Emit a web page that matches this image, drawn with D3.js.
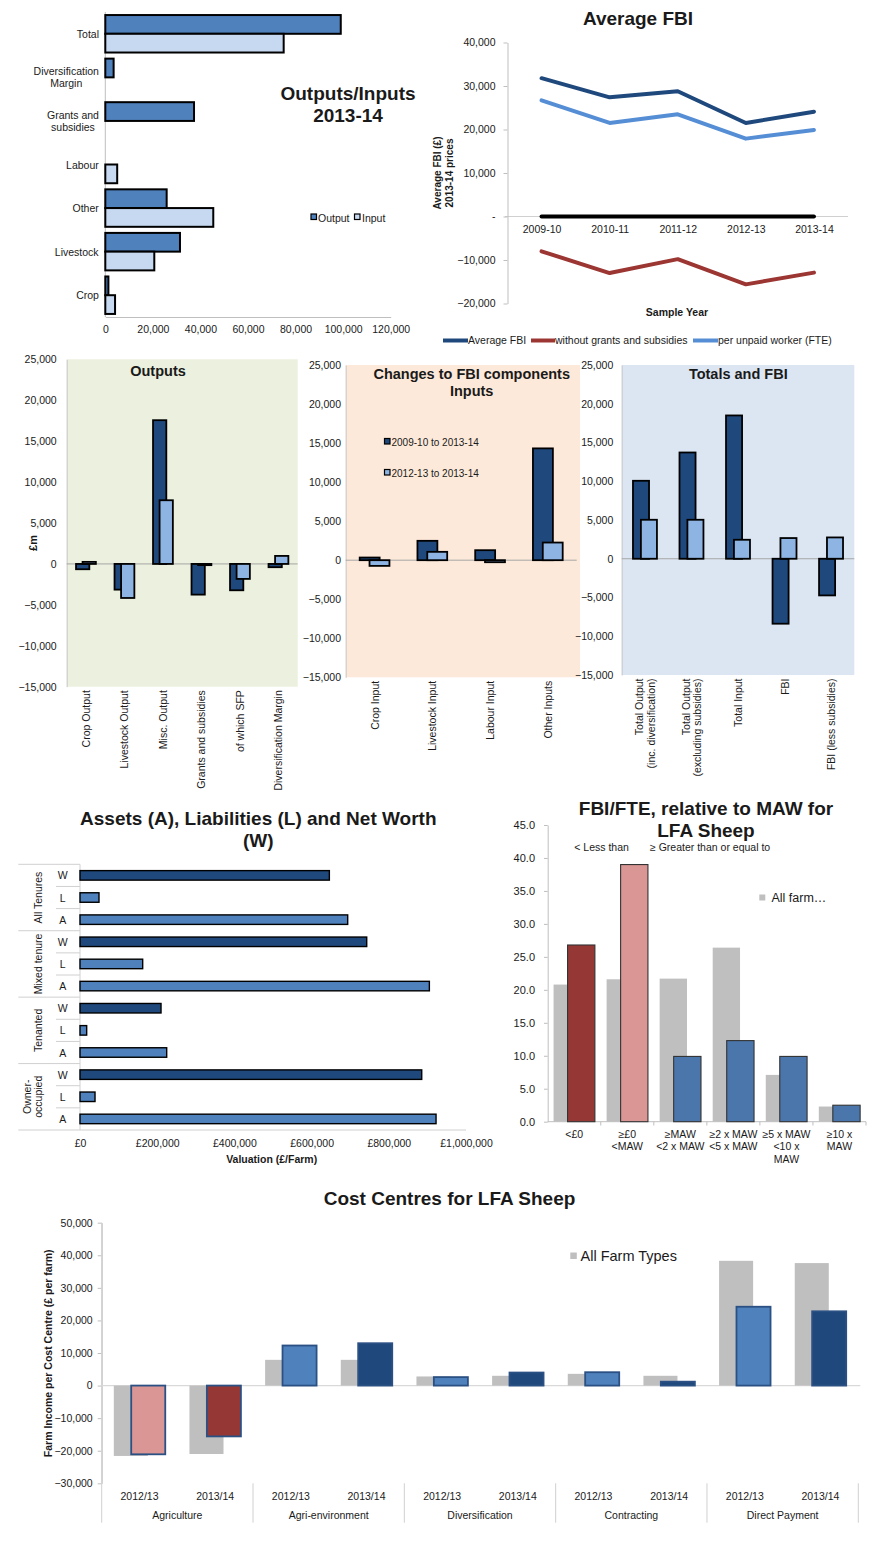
<!DOCTYPE html>
<html><head><meta charset="utf-8">
<script src="https://cdn.jsdelivr.net/npm/d3@7"></script>
<style>body{margin:0;background:#fff}svg{display:block}</style>
</head><body>
<script>
// ================= DATA =================
// Outputs/Inputs 2013-14
const oiCategories = ["Total","Diversification\nMargin","Grants and\nsubsidies","Labour","Other","Livestock","Crop"];
const oiOutput = [99000, 3500, 37300, null, 25800, 31400, 1300];
const oiInput  = [75000, null, null, 5000, 45400, 20600, 4100];
const oiTicks = [0,20000,40000,60000,80000,100000,120000];
const oiSeries = ["Output","Input"];

// Average FBI
const fbiYears = ["2009-10","2010-11","2011-12","2012-13","2013-14"];
const fbiAverage = [31800,27400,28800,21500,24100];
const fbiNoGrants = [-8000,-13000,-9800,-15600,-12900];
const fbiPerWorker = [26700,21500,23500,17900,19900];
const fbiBaseline = [0,0,0,0,0];
const fbiTicks = [-20000,-10000,0,10000,20000,30000,40000];
const fbiSeries = ["Average FBI","without grants and subsidies","per unpaid worker (FTE)"];

// Changes to FBI components
const chgTicks = [-15000,-10000,-5000,0,5000,10000,15000,20000,25000];
const chgSeries = ["2009-10 to 2013-14","2012-13 to 2013-14"];
const outCats = ["Crop Output","Livestock Output","Misc. Output","Grants and subsidies","of which SFP","Diversification Margin"];
const outLong = [-650,-3140,17560,-3750,-3220,-400];
const outShort = [250,-4160,7780,-150,-1830,980];
const inCats = ["Crop Input","Livestock Input","Labour Input","Other Inputs"];
const inLong = [340,2480,1280,14320];
const inShort = [-730,1070,-260,2260];
const totCats = ["Total Output\n(inc. diversification)","Total Output\n(excluding subsidies)","Total Input","FBI","FBI (less subsidies)"];
const totLong = [10060,13710,18490,-8380,-4730];
const totShort = [5030,5030,2450,2670,2750];

// Assets, Liabilities, Net Worth
const alwGroups = ["All Tenures","Mixed tenure","Tenanted","Owner-\noccupied"];
const alwRows = ["W","L","A"];
const alwAllTenures = [646000,49200,693500];
const alwMixed = [742800,162400,905100];
const alwTenanted = [209900,17300,224600];
const alwOwner = [885300,38900,922400];
const alwTicks = [0,200000,400000,600000,800000,1000000];

// FBI/FTE relative to MAW
const mawCats = ["<£0","≥£0\n<MAW","≥MAW\n<2 x MAW","≥2 x MAW\n<5 x MAW","≥5 x MAW\n<10 x\nMAW","≥10 x\nMAW"];
const mawAllFarms = [20.8,21.6,21.7,26.4,7.1,2.3];
const mawLfaSheep = [26.8,39.0,9.9,12.3,9.9,2.5];
const mawTicks = [0,5,10,15,20,25,30,35,40,45];

// Cost centres
const ccGroups = ["Agriculture","Agri-environment","Diversification","Contracting","Direct Payment"];
const ccYears = ["2012/13","2013/14"];
const ccAllFarms = [-21600,-21000,7900,7900,2800,3000,3600,3000,38300,37600];
const ccLfaSheep = [-21100,-15600,12300,13000,2600,4000,4100,1200,24200,22800];
const ccTicks = [-30000,-20000,-10000,0,10000,20000,30000,40000,50000];

// ================= STYLE =================
const F = "'Liberation Sans', Arial, Helvetica, sans-serif";
const TXT = "#1a1a1a";
const AX = "#bfbfbf";
const DARK = "#1F497D", MID = "#4F81BD", LIGHT = "#8DB4E2", PALE = "#C6D9F1";
const RED = "#953735", PINK = "#D99694", GREY = "#BFBFBF";

const svg = d3.select("body").append("svg").attr("width",877).attr("height",1548).attr("font-family",F);

function label(g, x, y, s, size, opts={}) {
  const t = g.append("text").attr("x",x).attr("y",y).attr("font-size",size)
    .attr("fill", opts.fill||TXT).attr("text-anchor", opts.anchor||"middle")
    .attr("dominant-baseline","central");
  if (opts.bold) t.attr("font-weight","bold");
  const lines = String(s).split("\n");
  const lh = opts.lh || size*1.15;
  const y0 = opts.top ? y : y - (lines.length-1)*lh/2;
  lines.forEach((l,i)=> t.append("tspan").attr("x",x).attr("y",y0+i*lh).text(l));
  return t;
}
function styleAxis(g, size) {
  g.attr("font-family",F).attr("font-size",size);
  g.selectAll("text").attr("fill",TXT);
  g.selectAll(".tick line").attr("stroke",AX);
  g.select(".domain").attr("stroke",AX);
}
function hline(g,x1,x2,y,c,w){g.append("line").attr("x1",x1).attr("x2",x2).attr("y1",y).attr("y2",y).attr("stroke",c||AX).attr("stroke-width",w||1);}
function vline(g,x,y1,y2,c,w){g.append("line").attr("x1",x).attr("x2",x).attr("y1",y1).attr("y2",y2).attr("stroke",c||AX).attr("stroke-width",w||1);}

// ================= PANEL 1: Outputs/Inputs =================
{
  const g = svg.append("g");
  const x = d3.scaleLinear().domain([0,120000]).range([105.3,390.7]);
  const y = d3.scaleBand().domain(oiCategories).range([12,317]);
  const bh = y.bandwidth()*0.43;
  const ax = g.append("g").attr("transform","translate(0,317)")
    .call(d3.axisBottom(x).tickValues(oiTicks).tickSize(0).tickPadding(9).tickFormat(d3.format(",")));
  styleAxis(ax,10.5);
  vline(g, x(0), 12, 317);
  oiCategories.forEach(c => {
    const t = label(g, 0, y(c)+y.bandwidth()/2, c, 10.5, {lh:12});
    const w = t.node().getBBox().width;
    t.attr("x",99-w/2); t.selectAll("tspan").attr("x",99-w/2);
  });
  const outD = oiCategories.map((c,i)=>({c,v:oiOutput[i]})).filter(d=>d.v!=null);
  const inD = oiCategories.map((c,i)=>({c,v:oiInput[i]})).filter(d=>d.v!=null);
  g.selectAll(".o").data(outD).join("rect")
    .attr("x",x(0)).attr("y",d=>y(d.c)+y.bandwidth()/2-bh).attr("width",d=>x(d.v)-x(0)).attr("height",bh)
    .attr("fill",MID).attr("stroke","#000").attr("stroke-width",2);
  g.selectAll(".i").data(inD).join("rect")
    .attr("x",x(0)).attr("y",d=>y(d.c)+y.bandwidth()/2).attr("width",d=>x(d.v)-x(0)).attr("height",bh)
    .attr("fill",PALE).attr("stroke","#000").attr("stroke-width",2);
  label(g,348,93,"Outputs/Inputs",19,{bold:true});
  label(g,348,115,"2013-14",19,{bold:true});
  // legend
  const lg = [[311,318,MID],[354.5,362,PALE]];
  oiSeries.forEach((s,i)=>{
    g.append("rect").attr("x",lg[i][0]).attr("y",214).attr("width",5.5).attr("height",5.5).attr("fill",lg[i][2]).attr("stroke","#000").attr("stroke-width",1.2);
    label(g,lg[i][1],217.5,s,10.5,{anchor:"start"});
  });
}

// ================= PANEL 2: Average FBI =================
{
  const g = svg.append("g");
  const y = d3.scaleLinear().domain([-20000,40000]).range([303.5,42.5]);
  const x = d3.scalePoint().domain(fbiYears).range([507.5,848]).padding(0.5);
  hline(g,505,848,y(0),"#d0d0d0");
  const ay = g.append("g").attr("transform","translate(507.5,0)")
    .call(d3.axisLeft(y).tickValues(fbiTicks).tickSize(4).tickSizeOuter(0).tickPadding(8)
      .tickFormat(d=> d===0 ? "-" : d3.format(",")(d)));
  styleAxis(ay,10.5);
  const ax = g.append("g").attr("transform",`translate(0,${y(0)})`)
    .call(d3.axisBottom(x).tickSize(0).tickPadding(9.5));
  styleAxis(ax,10.5); ax.select(".domain").remove();
  const line = d3.line().x((d,i)=>x(fbiYears[i])).y(d=>y(d));
  const series = [[fbiBaseline,"#000"],[fbiAverage,DARK],[fbiNoGrants,"#9B3632"],[fbiPerWorker,"#558ED5"]];
  series.forEach(([vals,c])=> g.append("path").attr("d",line(vals)).attr("fill","none").attr("stroke",c)
     .attr("stroke-width",4).attr("stroke-linejoin","round").attr("stroke-linecap","round"));
  label(g,638,18,"Average FBI",19,{bold:true});
  g.append("g").attr("transform","translate(443,173) rotate(-90)")
    .call(s=>label(s,0,0,"Average FBI (£)\n2013-14 prices",10,{bold:true,lh:12}));
  label(g,677,312,"Sample Year",10.5,{bold:true});
  const lg = [[443,468,DARK],[531,555,"#9B3632"],[693,718,"#558ED5"]];
  fbiSeries.forEach((s,i)=>{
    hline(g,lg[i][0],lg[i][1],340.5,lg[i][2],4);
    label(g,lg[i][1],340,s,10.5,{anchor:"start"});
  });
}

// ================= PANEL 3: Changes to FBI components =================
function changesPanel(cfg){
  const g = svg.append("g");
  const y = d3.scaleLinear().domain([-15000,25000]).range([cfg.yb,cfg.yt]);
  const x = d3.scaleBand().domain(cfg.cats).range([cfg.x0,cfg.x1]);
  g.append("rect").attr("x",cfg.x0).attr("y",cfg.yt).attr("width",(cfg.bgx1||cfg.x1)-cfg.x0)
    .attr("height",cfg.yb-cfg.yt).attr("fill",cfg.bg);
  const ay = g.append("g").attr("transform",`translate(${cfg.x0},0)`)
    .call(d3.axisLeft(y).tickValues(chgTicks).tickSize(0).tickSizeOuter(0).tickPadding(cfg.x0-cfg.lx).tickFormat(d3.format(",")));
  styleAxis(ay,10.5);
  ay.select(".domain").attr("stroke","#c8c8c8");
  hline(g,cfg.x0,cfg.x1,y(0),"#a6a6a6");
  const bwid = x.bandwidth()*0.345, off = x.bandwidth()*0.085;
  const mk = (vals, sign, fill) => g.selectAll(null).data(cfg.cats.map((c,i)=>({c,v:vals[i]}))).join("rect")
    .attr("x",d=>x(d.c)+x.bandwidth()/2+sign*off-bwid/2)
    .attr("y",d=>y(Math.max(d.v,0))).attr("width",bwid)
    .attr("height",d=>Math.abs(y(d.v)-y(0)))
    .attr("fill",fill).attr("stroke","#000").attr("stroke-width",1.8);
  mk(cfg.long,-1,DARK);
  mk(cfg.short,1,LIGHT);
  cfg.cats.forEach(c=>{
    const gg = g.append("g").attr("transform",`translate(${x(c)+x.bandwidth()/2},${cfg.yb+3.5}) rotate(-90)`);
    const lines = c.split("\n");
    const t = gg.append("text").attr("font-size",10.5).attr("fill",TXT).attr("text-anchor","end").attr("dominant-baseline","central");
    lines.forEach((l,i)=> t.append("tspan").attr("x",0).attr("y",(i-(lines.length-1)/2)*11.7).text(l));
  });
  cfg.titles.forEach((s,i)=> label(g,cfg.tx,cfg.ty+i*16.7,s,14.5,{bold:true}));
  return g;
}
changesPanel({x0:66.7,x1:297.7,yt:359.3,yb:686.7,lx:56.7,bg:"#EBF1DE",cats:outCats,long:outLong,short:outShort,titles:["Outputs"],tx:158,ty:370.7});
const pIn = changesPanel({x0:345.7,x1:576.7,bgx1:580,yt:365,yb:677.3,lx:341,bg:"#FDE9D9",cats:inCats,long:inLong,short:inShort,titles:["Changes to FBI components","Inputs"],tx:471.7,ty:374});
changesPanel({x0:621.7,x1:854.3,yt:365,yb:675,lx:613.3,bg:"#DCE6F2",cats:totCats,long:totLong,short:totShort,titles:["Totals and FBI"],tx:738.3,ty:374});
{
  const g = svg.append("g");
  g.append("g").attr("transform","translate(33,543) rotate(-90)").call(s=>label(s,0,0,"£m",11,{bold:true}));
  [DARK,LIGHT].forEach((c,i)=>{
    pIn.append("rect").attr("x",384.5).attr("y",438.5+i*31).attr("width",5.5).attr("height",5.5).attr("fill",c).attr("stroke","#000").attr("stroke-width",1.2);
    label(pIn,391.5,441.7+i*31,chgSeries[i],10,{anchor:"start"});
  });
}

// ================= PANEL 4: Assets, Liabilities, Net Worth =================
{
  const g = svg.append("g");
  const groupVals = [alwAllTenures,alwMixed,alwTenanted,alwOwner];
  const rows = [];
  alwGroups.forEach((gr,gi)=> alwRows.forEach((r,ri)=> rows.push({key:gi+"|"+r,g:gi,r,v:groupVals[gi][ri]})));
  const x = d3.scaleLinear().domain([0,1000000]).range([80,466]);
  const y = d3.scaleBand().domain(rows.map(d=>d.key)).range([864.3,1130]);
  const bh = 9.5;
  // separators
  alwGroups.forEach((gr,gi)=>{
    const top = y(gi+"|W");
    hline(g,18.3,80,top,"#d0d0d0");
    hline(g,56,80,top+y.bandwidth(),"#d0d0d0");
    hline(g,56,80,top+2*y.bandwidth(),"#d0d0d0");
    const lines = gr.split("\n");
    const cy = top+1.5*y.bandwidth();
    lines.forEach((l,i)=>{
      g.append("g").attr("transform",`translate(${38.3-(lines.length-1-i)*11.6},${cy}) rotate(-90)`)
        .call(s=>label(s,0,0,l,10.5));
    });
  });
  hline(g,18.3,466,1130,"#d0d0d0");
  vline(g,80,864.3,1130,"#d0d0d0");
  const ax = g.append("g").attr("transform","translate(0,1130)")
    .call(d3.axisBottom(x).tickValues(alwTicks).tickSize(0).tickPadding(9.8).tickFormat(d=>"£"+d3.format(",")(d)));
  styleAxis(ax,10.5); ax.select(".domain").remove();
  rows.forEach(d=> label(g,62.7,y(d.key)+y.bandwidth()/2,d.r,10.5));
  g.selectAll(".b").data(rows).join("rect")
    .attr("x",x(0)).attr("y",d=>y(d.key)+y.bandwidth()/2-bh/2).attr("width",d=>x(d.v)-x(0)).attr("height",bh)
    .attr("fill",d=>d.r==="W"?DARK:MID).attr("stroke","#000").attr("stroke-width",1.4);
  label(g,258.3,818.3,"Assets (A), Liabilities (L) and Net Worth",19,{bold:true});
  label(g,258.3,840,"(W)",19,{bold:true});
  label(g,271.7,1159.3,"Valuation (£/Farm)",10.5,{bold:true});
}

// ================= PANEL 5: FBI/FTE relative to MAW =================
{
  const g = svg.append("g");
  const y = d3.scaleLinear().domain([0,45]).range([1121.7,825]);
  const x = d3.scaleBand().domain(mawCats).range([547.7,866]);
  const bw = x.bandwidth()*0.515, off = x.bandwidth()*0.132;
  const cols = [RED,PINK,"#4A76AC","#4A76AC","#4A76AC","#4A76AC"];
  const ay = g.append("g").attr("transform","translate(547.7,0)")
    .call(d3.axisLeft(y).tickValues(mawTicks).tickSize(3.7).tickSizeOuter(0).tickPadding(9).tickFormat(d3.format(".1f")));
  styleAxis(ay,11);
  hline(g,547.7,866,1121.7,AX);
  mawCats.forEach(c=> vline(g,x(c)+x.bandwidth(),1121.7,1125.5,AX));
  g.selectAll(".gb").data(mawCats.map((c,i)=>({c,v:mawAllFarms[i]}))).join("rect")
    .attr("x",d=>x(d.c)+x.bandwidth()/2-off-bw/2).attr("y",d=>y(d.v)).attr("width",bw).attr("height",d=>y(0)-y(d.v))
    .attr("fill",GREY);
  g.selectAll(".cb").data(mawCats.map((c,i)=>({c,v:mawLfaSheep[i],i}))).join("rect")
    .attr("x",d=>x(d.c)+x.bandwidth()/2+off-bw/2).attr("y",d=>y(d.v)).attr("width",bw).attr("height",d=>y(0)-y(d.v))
    .attr("fill",d=>cols[d.i]).attr("stroke","#333").attr("stroke-width",1.1);
  mawCats.forEach(c=> label(g,x(c)+x.bandwidth()/2,1134,c,10.5,{top:true,lh:12.3}));
  label(g,706,808.3,"FBI/FTE, relative to MAW for",19,{bold:true});
  label(g,706,830,"LFA Sheep",19,{bold:true});
  label(g,574.3,847.3,"< Less than",10.5,{anchor:"start"});
  label(g,650,847.3,"≥ Greater than or equal to",10.5,{anchor:"start"});
  g.append("rect").attr("x",759.3).attr("y",894.5).attr("width",6).attr("height",6).attr("fill",GREY);
  label(g,771.5,897.7,"All farm…",12.5,{anchor:"start"});
}

// ================= PANEL 6: Cost Centres =================
{
  const g = svg.append("g");
  const keys = []; ccGroups.forEach(gr=> ccYears.forEach(yr=> keys.push(gr+"|"+yr)));
  const y = d3.scaleLinear().domain([-30000,50000]).range([1483.3,1222.7]);
  const x = d3.scaleBand().domain(keys).range([101.7,858.3]);
  const bw = x.bandwidth()*0.45, off = x.bandwidth()*0.115;
  const ay = g.append("g").attr("transform","translate(101.7,0)")
    .call(d3.axisLeft(y).tickValues(ccTicks).tickSize(4).tickSizeOuter(0).tickPadding(5).tickFormat(d3.format(",")));
  styleAxis(ay,10.5);
  vline(g,101.7,1222.7,1522.7,"#d0d0d0");
  hline(g,101.7,860.3,y(0),"#d9d9d9",1.2);
  ccGroups.forEach(gr=>{
    const xe = x(gr+"|"+ccYears[1])+x.bandwidth();
    vline(g,xe,1483.3,1522.7,"#d0d0d0");
    label(g,x(gr+"|"+ccYears[0])+x.bandwidth(),1515,gr,10.5);
  });
  keys.forEach(k=> label(g,x(k)+x.bandwidth()/2,1496,k.split("|")[1],10.5));
  const colFor = (i)=> i===0?PINK : i===1?RED : (i%2===0?MID:DARK);
  g.selectAll(".gb").data(keys.map((k,i)=>({k,v:ccAllFarms[i]}))).join("rect")
    .attr("x",d=>x(d.k)+x.bandwidth()/2-off-bw/2).attr("y",d=>y(Math.max(d.v,0))).attr("width",bw)
    .attr("height",d=>Math.abs(y(d.v)-y(0))).attr("fill",GREY);
  g.selectAll(".cb").data(keys.map((k,i)=>({k,v:ccLfaSheep[i],i}))).join("rect")
    .attr("x",d=>x(d.k)+x.bandwidth()/2+off-bw/2).attr("y",d=>y(Math.max(d.v,0))).attr("width",bw)
    .attr("height",d=>Math.abs(y(d.v)-y(0))).attr("fill",d=>colFor(d.i)).attr("stroke","#2B5083").attr("stroke-width",1.8);
  label(g,449.5,1198.3,"Cost Centres for LFA Sheep",19,{bold:true});
  g.append("g").attr("transform","translate(47.7,1353.3) rotate(-90)")
    .call(s=>label(s,0,0,"Farm Income per Cost Centre (£ per farm)",10.5,{bold:true}));
  g.append("rect").attr("x",570.3).attr("y",1252.5).attr("width",6.5).attr("height",6.5).attr("fill",GREY);
  label(g,580.5,1256,"All Farm Types",14.5,{anchor:"start"});
}
</script>
</body></html>
